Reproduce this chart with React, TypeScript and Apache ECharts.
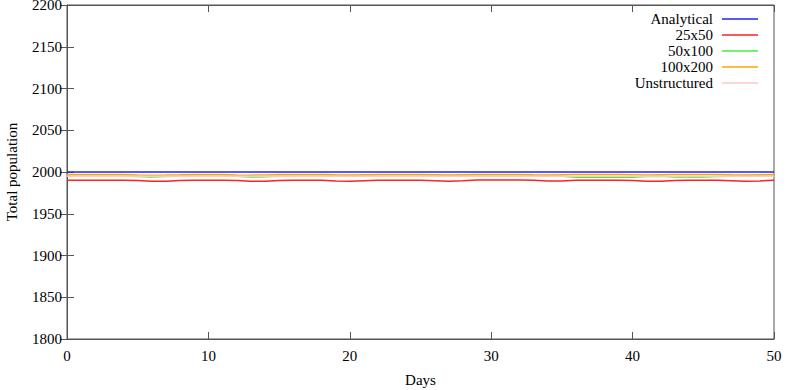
import React, { useEffect, useRef } from "react";
import * as echarts from "echarts";

const days: number[] = Array.from({ length: 51 }, (_, i) => i);

const analytical: number[] = [
  2000, 2000, 2000, 2000, 2000, 2000, 2000, 2000, 2000, 2000,
  2000, 2000, 2000, 2000, 2000, 2000, 2000, 2000, 2000, 2000,
  2000, 2000, 2000, 2000, 2000, 2000, 2000, 2000, 2000, 2000,
  2000, 2000, 2000, 2000, 2000, 2000, 2000, 2000, 2000, 2000,
  2000, 2000, 2000, 2000, 2000, 2000, 2000, 2000, 2000, 2000, 2000,
];

const mesh25x50: number[] = [
  1990, 1990, 1990, 1990, 1990, 1989.8, 1989, 1989, 1989.8, 1990,
  1990, 1990, 1989.8, 1989, 1989, 1989.8, 1990, 1990, 1990, 1989.3,
  1989, 1989.5, 1990, 1990, 1990, 1990, 1989.5, 1989, 1989.5, 1990.3,
  1990.5, 1990.5, 1990.5, 1990, 1989.2, 1989.2, 1990, 1990, 1990, 1990,
  1989.8, 1989, 1989, 1989.8, 1990, 1990, 1990, 1989.5, 1988.8, 1989.3, 1990,
];

const mesh50x100: number[] = [
  1995, 1995, 1995, 1995, 1995, 1994.6, 1994, 1994.6, 1995, 1995,
  1995, 1995, 1994.8, 1994, 1994.2, 1995, 1995, 1995, 1995, 1995,
  1995, 1995, 1995, 1995, 1995, 1995, 1995, 1995, 1995, 1995,
  1995, 1995, 1995, 1995, 1995, 1995, 1993.8, 1993.8, 1993.8, 1993.8,
  1993.8, 1994.5, 1995, 1994, 1994, 1994, 1994.6, 1995, 1995, 1995, 1995,
];

const mesh100x200: number[] = [
  1997, 1997, 1997, 1997, 1997, 1996.5, 1996.2, 1996.3, 1996.6, 1997,
  1997, 1997, 1996.5, 1996.2, 1996.5, 1997, 1997, 1997, 1997, 1996.6,
  1996.4, 1996.7, 1997, 1997, 1997, 1997, 1996.7, 1996.4, 1996.7, 1997,
  1997, 1997, 1997, 1996.7, 1996.5, 1996.8, 1997, 1997, 1997, 1997,
  1996.7, 1996.4, 1996.7, 1997, 1997, 1997, 1997, 1996.7, 1996.5, 1996.8, 1997,
];

const unstructured: number[] = [
  1995, 1995, 1995, 1995, 1995, 1995, 1995, 1995, 1995, 1995,
  1995, 1995, 1995, 1995, 1995, 1995, 1995, 1995, 1995, 1995,
  1995, 1995, 1995, 1995, 1995, 1995, 1995, 1995, 1995, 1995,
  1995, 1995, 1995, 1995, 1995, 1995, 1995, 1995, 1995, 1995,
  1995, 1995, 1995, 1995, 1995, 1995, 1995, 1995, 1995, 1995, 1995,
];

const seriesNames: string[] = ["Analytical", "25x50", "50x100", "100x200", "Unstructured"];
const seriesColors: string[] = ["#2020ff", "#ff2020", "#40f040", "#ffa500", "#ffc8c8"];
const seriesData: number[][] = [analytical, mesh25x50, mesh50x100, mesh100x200, unstructured];

const FONT = "Liberation Serif";

export default function App() {
  const ref = useRef<HTMLDivElement>(null);
  useEffect(() => {
    if (!ref.current) return;
    const chart = echarts.init(ref.current, null, { renderer: "svg" });
    const axisColor = "#555555";
    const legendGraphics: any[] = [];
    seriesNames.forEach((name, i) => {
      const y = 19 + i * 16;
      legendGraphics.push({
        type: "text",
        x: 713,
        y: y,
        style: {
          text: name,
          fill: "#000",
          fontFamily: FONT,
          fontSize: 15,
          align: "right",
          verticalAlign: "middle",
        },
      });
      legendGraphics.push({
        type: "line",
        shape: { x1: 722, y1: y, x2: 758, y2: y },
        style: { stroke: seriesColors[i], lineWidth: 1.5 },
      });
    });

    const fmt = (v: number) => String(v);

    chart.setOption({
      animation: false,
      backgroundColor: "#ffffff",
      grid: {
        left: 67,
        right: 12,
        top: 5,
        bottom: 51,
        show: true,
        borderColor: axisColor,
        borderWidth: 1,
        backgroundColor: "transparent",
        containLabel: false,
        outerBoundsMode: "none",
      },
      xAxis: [
        {
          type: "value",
          min: 0,
          max: 50,
          interval: 10,
          name: "Days",
          nameLocation: "middle",
          nameGap: 33,
          nameTextStyle: { fontFamily: FONT, fontSize: 15, color: "#000" },
          axisLine: { show: true, lineStyle: { color: axisColor } },
          axisTick: { show: true, inside: true, length: 7, lineStyle: { color: axisColor } },
          axisLabel: { fontFamily: FONT, fontSize: 15, color: "#000", margin: 9, formatter: fmt },
          splitLine: { show: false },
        },
        {
          type: "value",
          position: "top",
          min: 0,
          max: 50,
          interval: 10,
          axisLine: { show: true, lineStyle: { color: axisColor } },
          axisTick: { show: true, inside: true, length: 7, lineStyle: { color: axisColor } },
          axisLabel: { show: false },
          splitLine: { show: false },
        },
      ],
      yAxis: [
        {
          type: "value",
          min: 1800,
          max: 2200,
          interval: 50,
          name: "Total population",
          nameLocation: "middle",
          nameGap: 48,
          nameTextStyle: { fontFamily: FONT, fontSize: 15, color: "#000" },
          axisLine: { show: true, lineStyle: { color: axisColor } },
          axisTick: { show: true, inside: true, length: 7, lineStyle: { color: axisColor } },
          axisLabel: {
            fontFamily: FONT,
            fontSize: 15,
            color: "#000",
            margin: 5,
            formatter: fmt,
            padding: [5, 0, 0, 0],
          },
          splitLine: { show: false },
        },
        {
          type: "value",
          position: "right",
          min: 1800,
          max: 2200,
          interval: 50,
          axisLine: { show: true, lineStyle: { color: axisColor } },
          axisTick: { show: true, inside: true, length: 7, lineStyle: { color: axisColor } },
          axisLabel: { show: false },
          splitLine: { show: false },
        },
      ],
      series: seriesNames.map((name, i) => ({
        name,
        type: "line",
        xAxisIndex: 0,
        yAxisIndex: 0,
        data: days.map((d, j) => [d, seriesData[i][j]]),
        showSymbol: false,
        symbol: "none",
        lineStyle: { color: seriesColors[i], width: 1.5 },
        itemStyle: { color: seriesColors[i] },
        z: 2 + i,
      })),
      graphic: legendGraphics,
    });
    return () => chart.dispose();
  }, []);
  return <div ref={ref} style={{ width: 786, height: 390, position: "absolute", left: 0, top: 0 }} />;
}
